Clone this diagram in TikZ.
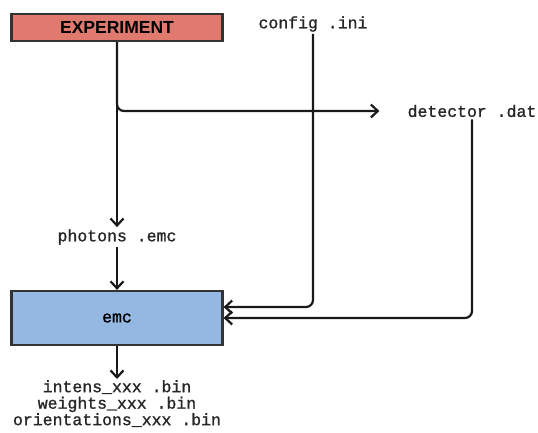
\documentclass[tikz,border=0pt]{standalone}
\usepackage{fontspec}
\setmainfont{Liberation Sans}
\newfontfamily\monof[FakeBold=1.2]{Liberation Mono}
\usetikzlibrary{arrows.meta,calc}
\definecolor{salmon}{HTML}{E07A6E}
\definecolor{skyb}{HTML}{95B8E3}
\definecolor{edge}{HTML}{333333}
\tikzset{
  box/.style={draw=edge, line width=2.2pt, minimum width=211pt, inner sep=0pt},
  file/.style={font=\monof\fontsize{16.5}{17.5}\selectfont, inner sep=2pt, text=black!85},
  arr/.style={line width=2.2pt, draw=black!90, -{Straight Barb[length=7pt,width=13pt,line width=2.2pt]}},
}
\begin{document}
\begin{tikzpicture}[x=1pt,y=-1pt]
\useasboundingbox (0,0) rectangle (538,433);
\node[box, fill=salmon, minimum height=27pt, font=\bfseries\fontsize{17.5}{18}\selectfont] (exp) at (117,27.5) {EXPERIMENT};
\node[box, fill=skyb, minimum height=54pt, font=\monof\fontsize{16.5}{17.5}\selectfont] (emc) at (117,318) {emc};
\node[file] (config) at (313,24) {config .ini};
\node[file] (det) at (472,111) {detector .dat};
\node[file] (photons) at (117,237) {photons .emc};
\node[file, font=\monof\fontsize{16.5}{16.5}\selectfont, inner sep=1pt, align=center, anchor=north] (out) at (117,379) {intens\_xxx .bin\\weights\_xxx .bin\\orientations\_xxx .bin};
\draw[arr] (exp.south) -- (photons.north);
\draw[arr, rounded corners=7pt, shorten >=26pt] (exp.south) |- (det.west);
\draw[arr] (photons.south) -- (emc.north);
\draw[arr, rounded corners=7pt] (config.south) |- ([yshift=11pt]emc.east);
\draw[arr, rounded corners=7pt] (det.south) |- (emc.east);
\draw[arr] (emc.south) -- (out.north);
\end{tikzpicture}
\end{document}
